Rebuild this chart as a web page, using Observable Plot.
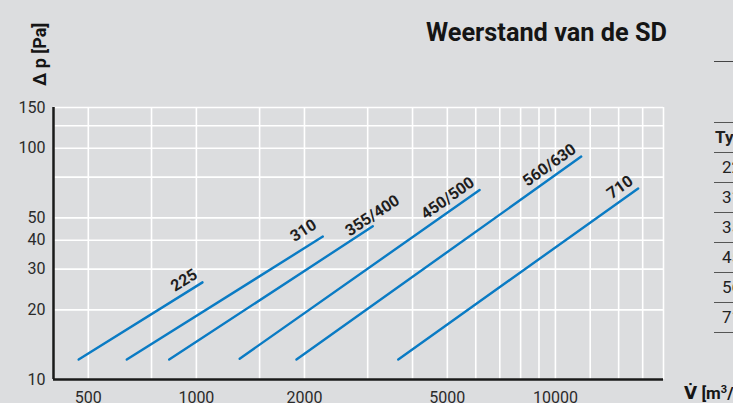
<!DOCTYPE html>
<html>
<head>
<meta charset="utf-8">
<script src="https://cdn.jsdelivr.net/npm/d3@7"></script>
<script src="https://cdn.jsdelivr.net/npm/@observablehq/plot@0.6"></script>
<style>
  html, body { margin: 0; padding: 0; }
  body { width: 733px; height: 403px; overflow: hidden; background: #dcdddf; position: relative; font-family: Roboto, "DejaVu Sans", sans-serif; color: #1e1e1e; }
  #chart { position: absolute; left: 0; top: 0; }
  .abs { position: absolute; white-space: nowrap; }
  #title { left: 426px; top: 20px; font-size: 25.3px; line-height: 25px; font-weight: 700; color: #151515; }
  #ylabel { left: 31px; top: 86px; font-size: 18px; line-height: 18px; font-weight: 700; transform-origin: 0 0; transform: rotate(-90deg); color: #151515; }
  #xlabel { left: 684px; top: 385px; font-size: 17px; line-height: 17px; font-weight: 700; color: #151515; }
  #toprule { left: 714px; top: 61px; width: 40px; height: 0; border-top: 1.5px solid #444; }
  #table { left: 714px; top: 122px; width: 80px; }
  .row { height: 29px; border-top: 1.5px solid #555; font-size: 17px; line-height: 29px; padding-left: 8px; color: #222; }
  .row.last { border-bottom: 1.5px solid #555; }
  .row.head { font-weight: 700; padding-left: 1px; }
</style>
</head>
<body>
<div id="chart"></div>
<div id="title" class="abs"></div>
<div id="ylabel" class="abs"></div>
<div id="xlabel" class="abs"></div>
<div id="toprule" class="abs"></div>
<div id="table" class="abs"></div>
<script>
// ---- data ----
const types = ["225", "310", "355/400", "450/500", "560/630", "710"];
const flowMin = [470, 640, 840, 1320, 1900, 3650];      // m3/h, lower end of each line
const flowMax = [1040, 2250, 3100, 6150, 11800, 17000]; // m3/h, upper end of each line
const dpMin = [12.2, 12.2, 12.2, 12.3, 12.2, 12.2];     // Pa
const dpMax = [26.3, 41.5, 46, 66, 92, 67];             // Pa

const xTicks = [500, 1000, 2000, 5000, 10000];
const xGrid = [500, 750, 1000, 1500, 2000, 3000, 4000, 5000, 6000, 7000, 8000, 9000, 10000, 12500, 15000, 17500, 20000];
const yTicks = [10, 20, 30, 40, 50, 100, 150];
const yGrid = [20, 30, 40, 50, 75, 100, 125, 150];
const xDomain = [400, 20000];
const yDomain = [10, 150];

const titleText = "Weerstand van de SD";
const yLabelText = "\u2206 p [Pa]";
const xLabelText = "V\u0307 [m\u00b3/h]";
const tableHeader = "Type";

// ---- layout / style ----
const W = 733, H = 403;
const mL = 53, mR = 70, mT = 107, mB = 24;
const blue = "#0a7bc4";
// extra screen offsets (px) for individual curve labels
const labelNudge = {"310": [-1, -4], "355/400": [32, -18]};

const points = [];
types.forEach((t, i) => {
  points.push({type: t, v: flowMin[i], p: dpMin[i]});
  points.push({type: t, v: flowMax[i], p: dpMax[i]});
});

const xs = Plot.scale({x: {type: "log", domain: xDomain, range: [mL, W - mR]}});
const ys = Plot.scale({y: {type: "log", domain: yDomain, range: [H - mB, mT]}});
const labels = types.map((t, i) => {
  const dx = xs.apply(flowMax[i]) - xs.apply(flowMin[i]);
  const dy = ys.apply(dpMax[i]) - ys.apply(dpMin[i]);
  return {type: t, v: flowMax[i], p: dpMax[i], angle: Math.atan2(dy, dx) * 180 / Math.PI};
});

const labelMarks = labels.map(l => {
  const [nx, ny] = labelNudge[l.type] || [0, 0];
  return Plot.text([l], {x: "v", y: "p", text: "type", rotate: "angle", textAnchor: "end", lineAnchor: "bottom",
    dx: -4 + nx, dy: -5 + ny, fontSize: 16, fontWeight: 700, fill: "#1e1e1e"});
});

const chart = Plot.plot({
  width: W, height: H,
  marginLeft: mL, marginRight: mR, marginTop: mT, marginBottom: mB,
  style: {background: "transparent", fontFamily: "Roboto, sans-serif", fontSize: "16px", color: "#2a2a2a", overflow: "visible"},
  x: {type: "log", domain: xDomain, axis: null},
  y: {type: "log", domain: yDomain},
  marks: [
    Plot.gridX(xGrid, {stroke: "#ffffff", strokeOpacity: 1, strokeWidth: 1.6}),
    Plot.gridY(yGrid, {stroke: "#ffffff", strokeOpacity: 1, strokeWidth: 1.6}),
    Plot.text(xTicks, {x: d => d, frameAnchor: "bottom", lineAnchor: "top", dy: 12, text: d => String(d), fontSize: 16, fill: "#2a2a2a"}),
    Plot.axisY(yTicks, {tickSize: 0, tickPadding: 8, tickFormat: d => String(d), label: null, fontSize: 16}),
    Plot.ruleX([xDomain[0]], {stroke: "#1a1a1a", strokeWidth: 2.5}),
    Plot.ruleY([yDomain[0]], {stroke: "#1a1a1a", strokeWidth: 2.5}),
    Plot.line(points, {x: "v", y: "p", z: "type", stroke: blue, strokeWidth: 2.4}),
    ...labelMarks
  ]
});
document.getElementById("chart").appendChild(chart);

document.getElementById("title").textContent = titleText;
document.getElementById("ylabel").textContent = yLabelText;
document.getElementById("xlabel").innerHTML = xLabelText.replace("\u00b3", "<sup style='font-size:11px;vertical-align:6px;line-height:0'>3</sup>");

const table = document.getElementById("table");
[tableHeader, ...types].forEach((t, i, arr) => {
  const r = document.createElement("div");
  r.className = "row" + (i === 0 ? " head" : "") + (i === arr.length - 1 ? " last" : "");
  r.textContent = t;
  table.appendChild(r);
});
</script>
</body>
</html>
